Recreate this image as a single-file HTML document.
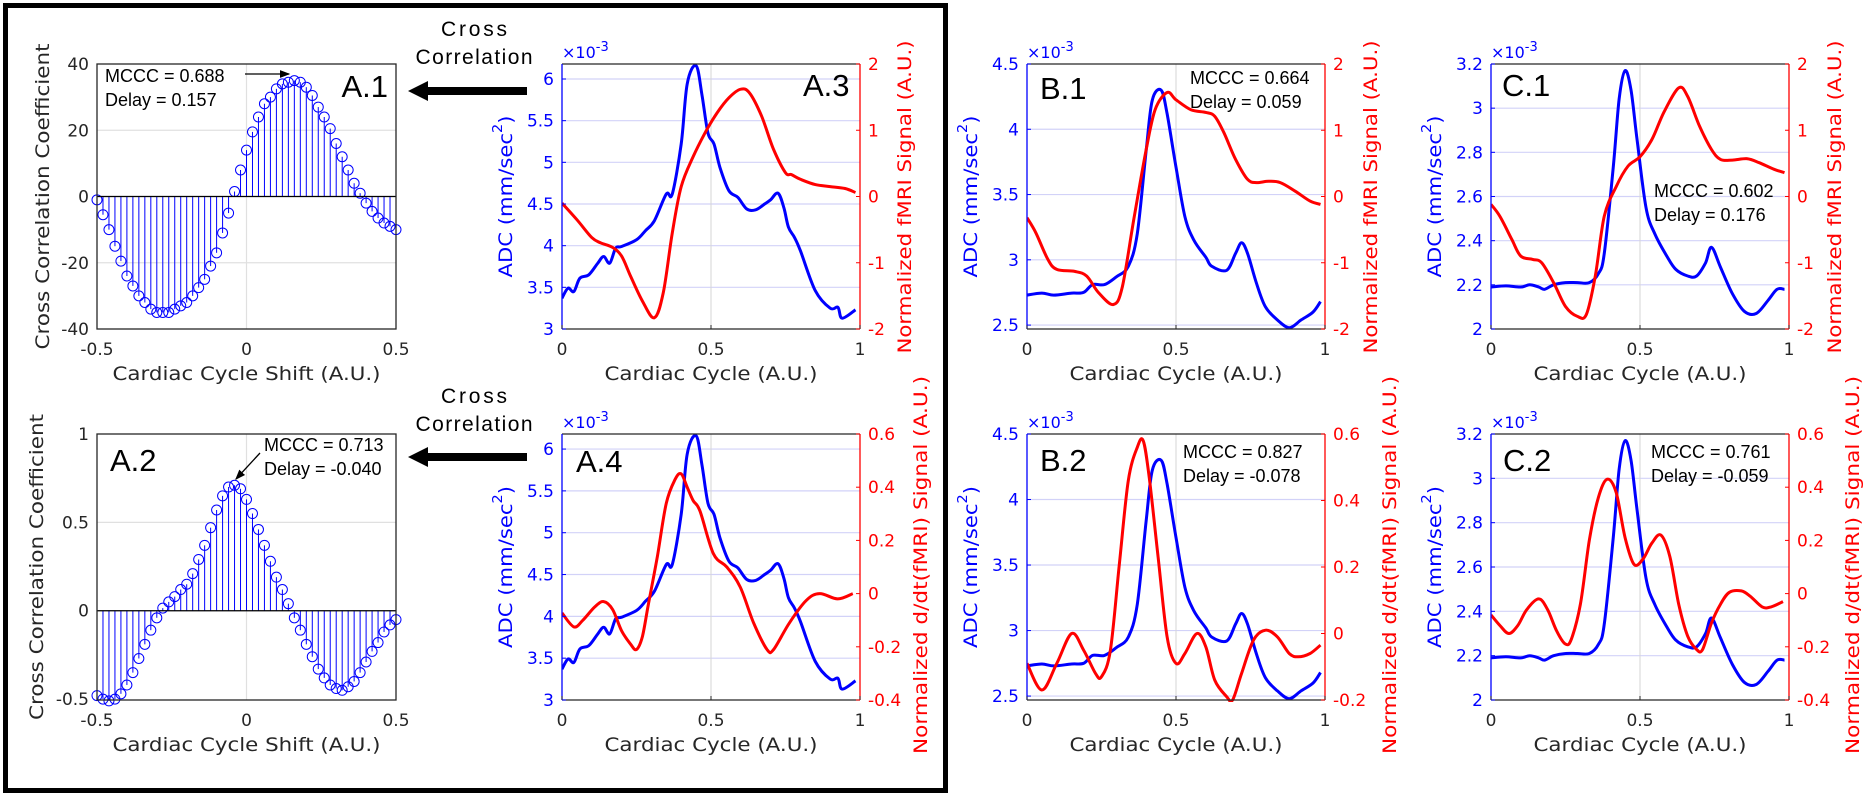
<!DOCTYPE html>
<html><head><meta charset="utf-8"><style>
html,body{margin:0;padding:0;background:#fff;}
svg{display:block;}
text{font-family:"DejaVu Sans","Liberation Sans",sans-serif;}
.ar{font-family:"Liberation Sans",Arial,sans-serif;}
</style></head><body>
<svg id="fig" width="1868" height="797" viewBox="0 0 1868 797" xmlns="http://www.w3.org/2000/svg">
<rect x="5.5" y="5.5" width="940" height="785" fill="none" stroke="#000" stroke-width="5"/>
<g>
<text class="ar" x="474" y="36" font-size="21" text-anchor="middle" textLength="66">Cross</text>
<text class="ar" x="474" y="64" font-size="21" text-anchor="middle" textLength="117">Correlation</text>
<rect x="426" y="87" width="101" height="8" fill="#000"/>
<polygon points="408,91 428,81 428,101" fill="#000"/>
</g>
<g>
<text class="ar" x="474" y="403" font-size="21" text-anchor="middle" textLength="66">Cross</text>
<text class="ar" x="474" y="431" font-size="21" text-anchor="middle" textLength="117">Correlation</text>
<rect x="426" y="453" width="101" height="8" fill="#000"/>
<polygon points="408,457 428,447 428,467" fill="#000"/>
</g>
<defs><marker id="ah" markerWidth="8" markerHeight="8" refX="7" refY="4" orient="auto"><path d="M0,1 L8,4 L0,7 z" fill="#000"/></marker></defs>
</svg>
<script>
// ---------- data ----------
const lags = [-0.5,-0.48,-0.46,-0.44,-0.42,-0.4,-0.38,-0.36,-0.34,-0.32,-0.3,-0.28,-0.26,-0.24,-0.22,-0.2,-0.18,-0.16,-0.14,-0.12,-0.1,-0.08,-0.06,-0.04,-0.02,0,0.02,0.04,0.06,0.08,0.1,0.12,0.14,0.16,0.18,0.2,0.22,0.24,0.26,0.28,0.3,0.32,0.34,0.36,0.38,0.4,0.42,0.44,0.46,0.48,0.5];
const xcorrA1 = [-1,-5.5,-10,-15,-19.5,-24,-27,-30,-32,-34,-35,-35,-35,-34,-33,-32,-30,-27.5,-25,-21,-17,-11,-5,1.5,8,14,19.5,24,28,30,32.5,34,34.5,35,34.5,33,30.5,27,24,20.5,16,12,8,4,1,-2,-4.5,-6.5,-8,-9,-10];
const xcorrA2 = [-0.48,-0.5,-0.51,-0.5,-0.47,-0.42,-0.35,-0.27,-0.19,-0.11,-0.04,0.015,0.05,0.08,0.12,0.15,0.21,0.29,0.37,0.47,0.57,0.65,0.7,0.71,0.69,0.63,0.55,0.46,0.37,0.28,0.19,0.12,0.04,-0.04,-0.11,-0.19,-0.26,-0.33,-0.38,-0.42,-0.44,-0.45,-0.43,-0.4,-0.35,-0.29,-0.23,-0.18,-0.12,-0.08,-0.05];

const adcAx = [0,0.02,0.04,0.06,0.09,0.12,0.14,0.16,0.18,0.2,0.25,0.28,0.31,0.35,0.37,0.4,0.42,0.45,0.47,0.49,0.51,0.53,0.56,0.59,0.62,0.65,0.68,0.7,0.725,0.745,0.76,0.78,0.8,0.85,0.9,0.926,0.94,0.985];
const adcAy = [3.37,3.49,3.45,3.61,3.65,3.79,3.87,3.79,3.97,3.99,4.07,4.18,4.3,4.62,4.62,5.22,5.94,6.16,5.8,5.35,5.22,4.94,4.66,4.58,4.44,4.43,4.5,4.55,4.63,4.45,4.22,4.1,3.94,3.46,3.25,3.26,3.13,3.23];
const fmriAx = [0,0.05,0.1,0.13,0.17,0.2,0.23,0.27,0.31,0.34,0.37,0.4,0.44,0.48,0.52,0.56,0.6,0.63,0.67,0.71,0.75,0.77,0.8,0.85,0.9,0.95,0.985];
const fmriAy = [-0.1,-0.35,-0.62,-0.7,-0.77,-0.9,-1.2,-1.58,-1.83,-1.45,-0.55,0.15,0.6,0.96,1.26,1.49,1.62,1.56,1.21,0.71,0.36,0.33,0.26,0.18,0.15,0.12,0.06];
const dfAx = [0,0.04,0.07,0.11,0.14,0.17,0.2,0.23,0.25,0.27,0.29,0.32,0.35,0.38,0.4,0.42,0.44,0.463,0.508,0.553,0.598,0.643,0.688,0.71,0.763,0.82,0.865,0.925,0.976];
const dfAy = [-0.073,-0.125,-0.1,-0.05,-0.03,-0.06,-0.14,-0.19,-0.21,-0.16,-0.04,0.14,0.34,0.43,0.45,0.4,0.35,0.31,0.15,0.1,0.025,-0.11,-0.21,-0.21,-0.11,-0.025,0,-0.02,0];

const adcBx = [0,0.05,0.09,0.15,0.19,0.22,0.26,0.3,0.34,0.37,0.4,0.42,0.45,0.47,0.5,0.53,0.56,0.6,0.62,0.67,0.7,0.72,0.74,0.77,0.8,0.84,0.88,0.92,0.96,0.985];
const adcBy = [2.73,2.745,2.73,2.745,2.75,2.81,2.81,2.87,2.95,3.2,3.84,4.22,4.3,4.12,3.71,3.33,3.15,3.02,2.95,2.92,3.05,3.13,3.05,2.82,2.64,2.54,2.48,2.54,2.6,2.68];
const fmriBx = [0,0.03,0.07,0.1,0.16,0.2,0.24,0.29,0.32,0.36,0.4,0.43,0.47,0.5,0.55,0.6,0.63,0.66,0.7,0.74,0.77,0.81,0.85,0.9,0.95,0.985];
const fmriBy = [-0.32,-0.55,-0.95,-1.1,-1.13,-1.2,-1.45,-1.63,-1.36,-0.3,0.71,1.31,1.57,1.46,1.31,1.27,1.21,0.97,0.56,0.26,0.21,0.23,0.21,0.08,-0.07,-0.12];
const dfBx = [0,0.05,0.1,0.15,0.19,0.23,0.25,0.28,0.31,0.34,0.37,0.39,0.41,0.44,0.47,0.5,0.53,0.57,0.6,0.63,0.67,0.69,0.72,0.76,0.8,0.84,0.88,0.91,0.95,0.985];
const dfBy = [-0.09,-0.17,-0.09,0,-0.05,-0.12,-0.13,-0.05,0.21,0.46,0.56,0.58,0.47,0.23,-0.01,-0.09,-0.06,0,-0.04,-0.14,-0.19,-0.2,-0.12,-0.02,0.01,-0.01,-0.06,-0.07,-0.06,-0.035];

const adcCx = [0,0.05,0.1,0.13,0.16,0.18,0.21,0.25,0.29,0.33,0.36,0.38,0.41,0.43,0.45,0.47,0.49,0.52,0.55,0.59,0.62,0.66,0.69,0.72,0.74,0.77,0.81,0.85,0.89,0.93,0.96,0.985];
const adcCy = [2.19,2.195,2.19,2.2,2.19,2.18,2.2,2.21,2.21,2.21,2.25,2.34,2.73,3.04,3.17,3.08,2.86,2.55,2.43,2.33,2.27,2.24,2.24,2.3,2.37,2.28,2.16,2.08,2.07,2.13,2.18,2.18];
const fmriCx = [0,0.03,0.07,0.1,0.14,0.17,0.21,0.25,0.29,0.32,0.35,0.38,0.42,0.46,0.5,0.54,0.58,0.63,0.66,0.7,0.74,0.77,0.81,0.86,0.9,0.95,0.985];
const fmriCy = [-0.12,-0.3,-0.65,-0.9,-0.95,-1,-1.3,-1.66,-1.81,-1.78,-1.2,-0.3,0.15,0.46,0.6,0.86,1.27,1.64,1.51,1.06,0.71,0.56,0.55,0.57,0.51,0.41,0.36];
const dfCx = [0,0.03,0.06,0.09,0.12,0.16,0.19,0.22,0.25,0.27,0.3,0.33,0.36,0.39,0.42,0.45,0.48,0.51,0.54,0.57,0.6,0.63,0.66,0.69,0.71,0.74,0.77,0.8,0.84,0.87,0.91,0.94,0.98];
const dfCy = [-0.08,-0.12,-0.15,-0.12,-0.06,-0.02,-0.06,-0.14,-0.19,-0.17,-0.04,0.2,0.36,0.43,0.38,0.21,0.11,0.13,0.19,0.22,0.14,-0.04,-0.16,-0.21,-0.21,-0.11,-0.04,0.005,0.01,-0.01,-0.05,-0.05,-0.03];

const xTicksCycle = [0,0.5,1];
const xTickLabelsCycle = ['0','0.5','1'];
const xTicksShift = [-0.5,0,0.5];
const xTickLabelsShift = ['-0.5','0','0.5'];
const yTicksA1 = [-40,-20,0,20,40];
const yTicksA2 = [-0.5,0,0.5,1];
const yTicksAdcA = [3,3.5,4,4.5,5,5.5,6];
const yTicksAdcB = [2.5,3,3.5,4,4.5];
const yTicksAdcC = [2,2.2,2.4,2.6,2.8,3,3.2];
const yTicksFmri = [-2,-1,0,1,2];
const yTicksDfA = [-0.4,-0.2,0,0.2,0.4,0.6];
const yTicksDfB = [-0.2,0,0.2,0.4,0.6];
const yTickLabelsA2 = ['-0.5','0','0.5','1'];

// ---------- helpers ----------
const NS = 'http://www.w3.org/2000/svg';
const svg = document.getElementById('fig');
function mk(tag, attrs, parent, txt) {
  const e = document.createElementNS(NS, tag);
  for (const k in attrs) e.setAttribute(k, attrs[k]);
  if (txt !== undefined) e.textContent = txt;
  (parent || svg).appendChild(e);
  return e;
}
function lin(d0, d1, r0, r1) { return v => r0 + (v - d0) / (d1 - d0) * (r1 - r0); }
let clipN = 0;
function clipFor(x0, y0, x1, y1) {
  const id = 'c' + (clipN++);
  const defs = svg.querySelector('defs');
  const cp = mk('clipPath', {id: id}, defs);
  mk('rect', {x: x0, y: y0, width: x1 - x0, height: y1 - y0}, cp);
  return 'url(#' + id + ')';
}
function fmt(v) { return (Math.round(v * 100) / 100).toString(); }
function pathFrom(xs, ys, sx, sy) {
  const P = xs.map((x, i) => [sx(x), sy(ys[i])]);
  let d = 'M' + P[0][0].toFixed(1) + ',' + P[0][1].toFixed(1);
  for (let i = 0; i < P.length - 1; i++) {
    const p0 = P[Math.max(0, i - 1)], p1 = P[i], p2 = P[i + 1], p3 = P[Math.min(P.length - 1, i + 2)];
    const c1 = [p1[0] + (p2[0] - p0[0]) / 6, p1[1] + (p2[1] - p0[1]) / 6];
    const c2 = [p2[0] - (p3[0] - p1[0]) / 6, p2[1] - (p3[1] - p1[1]) / 6];
    d += ' C' + c1[0].toFixed(1) + ',' + c1[1].toFixed(1) + ' ' + c2[0].toFixed(1) + ',' + c2[1].toFixed(1) + ' ' + p2[0].toFixed(1) + ',' + p2[1].toFixed(1);
  }
  return d;
}
function rotLabel(g, txt, cx, cy, len, color, sup) {
  const t = mk('text', {x: cx, y: cy, transform: 'rotate(-90 ' + cx + ' ' + cy + ')', 'text-anchor': 'middle', 'dominant-baseline': 'central', 'font-size': 19, fill: color, textLength: len, lengthAdjust: 'spacingAndGlyphs'}, g);
  if (sup) {
    mk('tspan', {}, t, 'ADC (mm/sec');
    mk('tspan', {dy: -8, 'font-size': 13}, t, '2');
    mk('tspan', {dy: 8}, t, ')');
  } else t.textContent = txt;
  return t;
}

// ---------- dual-axis panel ----------
function dualPanel(cfg) {
  const g = mk('g', {});
  
  
  const {x0, x1, y0, y1} = cfg;
  const sx = lin(0, 1, x0, x1);
  const sL = lin(cfg.lim[0], cfg.lim[1], y1, y0);
  const sR = lin(cfg.rlim[0], cfg.rlim[1], y1, y0);
  const grid = mk('g', {}, g);
  
  
  cfg.lticks.forEach(v => { const y = sL(v); if (y > y0 + 1 && y < y1 - 1) mk('line', {x1: x0, x2: x1, y1: y, y2: y, stroke: '#d2d2f8', 'stroke-width': 1.2}, grid); });
  mk('line', {x1: sx(0.5), x2: sx(0.5), y1: y0, y2: y1, stroke: '#d6d6d6', 'stroke-width': 1}, grid);
  const clip = clipFor(x0, y0 - 2, x1, y1 + 2);
  const adc = mk('path', {d: pathFrom(cfg.bx, cfg.by, sx, sL), fill: 'none', stroke: '#0000ff', 'stroke-width': 3, 'stroke-linejoin': 'round', 'clip-path': clip}, g);
  
  
  const red = mk('path', {d: pathFrom(cfg.rx, cfg.ry, sx, sR), fill: 'none', stroke: '#ff0000', 'stroke-width': 3, 'stroke-linejoin': 'round', 'clip-path': clip}, g);
  
  
  mk('line', {x1: x0, x2: x1, y1: y0, y2: y0, stroke: '#262626', 'stroke-width': 1.3}, g);
  mk('line', {x1: x0, x2: x1, y1: y1, y2: y1, stroke: '#262626', 'stroke-width': 1.3}, g);
  mk('line', {x1: x0, x2: x0, y1: y0, y2: y1, stroke: '#0000ff', 'stroke-width': 1.3}, g);
  mk('line', {x1: x1, x2: x1, y1: y0, y2: y1, stroke: '#ff0000', 'stroke-width': 1.3}, g);
  const xt = mk('g', {}, g);
  
  
  xTicksCycle.forEach((v, i) => {
    mk('line', {x1: sx(v), x2: sx(v), y1: y1, y2: y1 - 4, stroke: '#262626'}, xt);
    mk('text', {x: sx(v), y: y1 + 26, 'text-anchor': 'middle', 'font-size': 17, fill: '#262626'}, xt, xTickLabelsCycle[i]);
  });
  const xl = mk('text', {x: (x0 + x1) / 2, y: y1 + 51, 'text-anchor': 'middle', 'font-size': 19, fill: '#262626', textLength: 213, lengthAdjust: 'spacingAndGlyphs'}, g, 'Cardiac Cycle (A.U.)');
  
  
  const lt = mk('g', {}, g);
  
  
  cfg.lticks.forEach(v => {
    mk('line', {x1: x0, x2: x0 + 4, y1: sL(v), y2: sL(v), stroke: '#0000ff'}, lt);
    mk('text', {x: x0 - 8, y: sL(v) + 6, 'text-anchor': 'end', 'font-size': 17, fill: '#0000ff'}, lt, fmt(v));
  });
  const ex = mk('text', {x: x0, y: y0 - 6, 'font-size': 16, fill: '#0000ff'}, g);
  mk('tspan', {}, ex, '\u00d710');
  mk('tspan', {dy: -7, 'font-size': 13}, ex, '-3');
  
  
  const rt = mk('g', {}, g);
  
  
  cfg.rticks.forEach(v => {
    mk('line', {x1: x1, x2: x1 - 4, y1: sR(v), y2: sR(v), stroke: '#ff0000'}, rt);
    mk('text', {x: x1 + 8, y: sR(v) + 6, 'font-size': 17, fill: '#ff0000'}, rt, fmt(v));
  });
  const yl = rotLabel(g, '', x0 - 56, (y0 + y1) / 2, 162, '#0000ff', true);
  
  
  const yr = rotLabel(g, cfg.rtitle, x1 + cfg.rOff, cfg.rcy, cfg.rlen, '#ff0000', false);
  
  
  const pl = mk('text', {class: 'ar', x: cfg.lab[0], y: cfg.lab[1], 'font-size': 31, fill: '#000', 'text-anchor': cfg.lab[2] || 'start'}, g, cfg.label);
  
  
  const an = mk('g', {}, g);
  
  
  mk('text', {class: 'ar', x: cfg.ann[0], y: cfg.ann[1], 'font-size': 18, fill: '#000'}, an, cfg.annText[0]);
  mk('text', {class: 'ar', x: cfg.ann[0], y: cfg.ann[1] + 24, 'font-size': 18, fill: '#000'}, an, cfg.annText[1]);
}

// ---------- stem panel ----------
function stemPanel(cfg) {
  const g = mk('g', {});
  
  
  const {x0, x1, y0, y1} = cfg;
  const sx = lin(-0.5, 0.5, x0, x1);
  const sy = lin(cfg.lim[0], cfg.lim[1], y1, y0);
  cfg.ticks.forEach(v => { const y = sy(v); if (y > y0 + 1 && y < y1 - 1) mk('line', {x1: x0, x2: x1, y1: y, y2: y, stroke: '#e0e0e0', 'stroke-width': 1.2}, g); });
  mk('line', {x1: sx(0), x2: sx(0), y1: y0, y2: y1, stroke: '#e0e0e0', 'stroke-width': 1.2}, g);
  const st = mk('g', {}, g);
  
  
  const y0v = sy(0);
  lags.forEach((l, i) => {
    const X = sx(l), Y = sy(cfg.vals[i]);
    const ln = mk('line', {x1: X, x2: X, y1: y0v, y2: Y, stroke: '#0000ff', 'stroke-width': 1}, st);
    
    
    const c = mk('ellipse', {cx: X, cy: Y, rx: 5, ry: 5, fill: 'none', stroke: '#0000ff', 'stroke-width': 1}, st);
    
    
  });
  mk('line', {x1: x0, x2: x1, y1: y0v, y2: y0v, stroke: '#000', 'stroke-width': 1.2}, g);
  mk('rect', {x: x0, y: y0, width: x1 - x0, height: y1 - y0, fill: 'none', stroke: '#262626', 'stroke-width': 1.3}, g);
  const xt = mk('g', {}, g);
  
  
  xTicksShift.forEach((v, i) => mk('text', {x: sx(v), y: y1 + 26, 'text-anchor': 'middle', 'font-size': 17, fill: '#262626'}, xt, xTickLabelsShift[i]));
  const yt = mk('g', {}, g);
  
  
  cfg.ticks.forEach((v, i) => mk('text', {x: x0 - 8, y: sy(v) + 6, 'text-anchor': 'end', 'font-size': 17, fill: '#262626'}, yt, cfg.tickLabels[i]));
  const xl = mk('text', {x: (x0 + x1) / 2, y: y1 + 51, 'text-anchor': 'middle', 'font-size': 19, fill: '#262626', textLength: 268, lengthAdjust: 'spacingAndGlyphs'}, g, 'Cardiac Cycle Shift (A.U.)');
  
  
  const yl = rotLabel(g, 'Cross Correlation Coefficient', cfg.ylx, (y0 + y1) / 2, 306, '#262626', false);
  
  
  const pl = mk('text', {class: 'ar', x: cfg.lab[0], y: cfg.lab[1], 'font-size': 31, fill: '#000', 'text-anchor': cfg.lab[2]}, g, cfg.label);
  
  
  const an = mk('g', {}, g);
  
  
  mk('text', {class: 'ar', x: cfg.ann[0], y: cfg.ann[1], 'font-size': 18, fill: '#000'}, an, cfg.annText[0]);
  mk('text', {class: 'ar', x: cfg.ann[0], y: cfg.ann[1] + 24, 'font-size': 18, fill: '#000'}, an, cfg.annText[1]);
  mk('line', {x1: cfg.arrow[0], y1: cfg.arrow[1], x2: cfg.arrow[2], y2: cfg.arrow[3], stroke: '#000', 'stroke-width': 1.3, 'marker-end': 'url(#ah)'}, an);
}

const TOP = [64, 329], BOT = [434, 700];
stemPanel({name: 'panel-a1', x0: 97, x1: 396, y0: TOP[0], y1: TOP[1], lim: [-40, 40], ticks: yTicksA1, tickLabels: yTicksA1.map(String), vals: xcorrA1, ylx: 43, label: 'A.1', lab: [388, 97, 'end'], ann: [105, 82], annText: ['MCCC = 0.688', 'Delay = 0.157'], arrow: [245, 74, 289, 74]});
stemPanel({name: 'panel-a2', x0: 97, x1: 396, y0: BOT[0], y1: BOT[1], lim: [-0.505, 1], ticks: yTicksA2, tickLabels: yTickLabelsA2, vals: xcorrA2, ylx: 37, label: 'A.2', lab: [110, 471, 'start'], ann: [264, 451], annText: ['MCCC = 0.713', 'Delay = -0.040'], arrow: [260, 453, 236, 479]});

const fm = 'Normalized fMRI Signal (A.U.)', dd = 'Normalized d/dt(fMRI) Signal (A.U.)';
dualPanel({name: 'panel-a3', x0: 562, x1: 860, y0: TOP[0], y1: TOP[1], lim: [3, 6.18], lticks: yTicksAdcA, rlim: [-2, 2], rticks: yTicksFmri, bx: adcAx, by: adcAy, rx: fmriAx, ry: fmriAy, redName: 'fmri-line', rtitle: fm, rOff: 45, rcy: 197, rlen: 313, label: 'A.3', lab: [803, 96], ann: [-999, -999], annText: ['', '']});
dualPanel({name: 'panel-b1', x0: 1027, x1: 1325, y0: TOP[0], y1: TOP[1], lim: [2.47, 4.5], lticks: yTicksAdcB, rlim: [-2, 2], rticks: yTicksFmri, bx: adcBx, by: adcBy, rx: fmriBx, ry: fmriBy, redName: 'fmri-line', rtitle: fm, rOff: 46, rcy: 197, rlen: 313, label: 'B.1', lab: [1040, 99], ann: [1190, 84], annText: ['MCCC = 0.664', 'Delay = 0.059']});
dualPanel({name: 'panel-c1', x0: 1491, x1: 1789, y0: TOP[0], y1: TOP[1], lim: [2, 3.2], lticks: yTicksAdcC, rlim: [-2, 2], rticks: yTicksFmri, bx: adcCx, by: adcCy, rx: fmriCx, ry: fmriCy, redName: 'fmri-line', rtitle: fm, rOff: 46, rcy: 197, rlen: 313, label: 'C.1', lab: [1502, 96], ann: [1654, 197], annText: ['MCCC = 0.602', 'Delay = 0.176']});
dualPanel({name: 'panel-a4', x0: 562, x1: 860, y0: BOT[0], y1: BOT[1], lim: [3, 6.18], lticks: yTicksAdcA, rlim: [-0.4, 0.6], rticks: yTicksDfA, bx: adcAx, by: adcAy, rx: dfAx, ry: dfAy, redName: 'dfmri-line', rtitle: dd, rOff: 61, rcy: 565, rlen: 378, label: 'A.4', lab: [576, 472], ann: [-999, -999], annText: ['', '']});
dualPanel({name: 'panel-b2', x0: 1027, x1: 1325, y0: BOT[0], y1: BOT[1], lim: [2.47, 4.5], lticks: yTicksAdcB, rlim: [-0.2, 0.6], rticks: yTicksDfB, bx: adcBx, by: adcBy, rx: dfBx, ry: dfBy, redName: 'dfmri-line', rtitle: dd, rOff: 65, rcy: 565, rlen: 378, label: 'B.2', lab: [1040, 471], ann: [1183, 458], annText: ['MCCC = 0.827', 'Delay = -0.078']});
dualPanel({name: 'panel-c2', x0: 1491, x1: 1789, y0: BOT[0], y1: BOT[1], lim: [2, 3.2], lticks: yTicksAdcC, rlim: [-0.4, 0.6], rticks: yTicksDfA, bx: adcCx, by: adcCy, rx: dfCx, ry: dfCy, redName: 'dfmri-line', rtitle: dd, rOff: 64, rcy: 565, rlen: 378, label: 'C.2', lab: [1503, 471], ann: [1651, 458], annText: ['MCCC = 0.761', 'Delay = -0.059']});
</script>
</body></html>
